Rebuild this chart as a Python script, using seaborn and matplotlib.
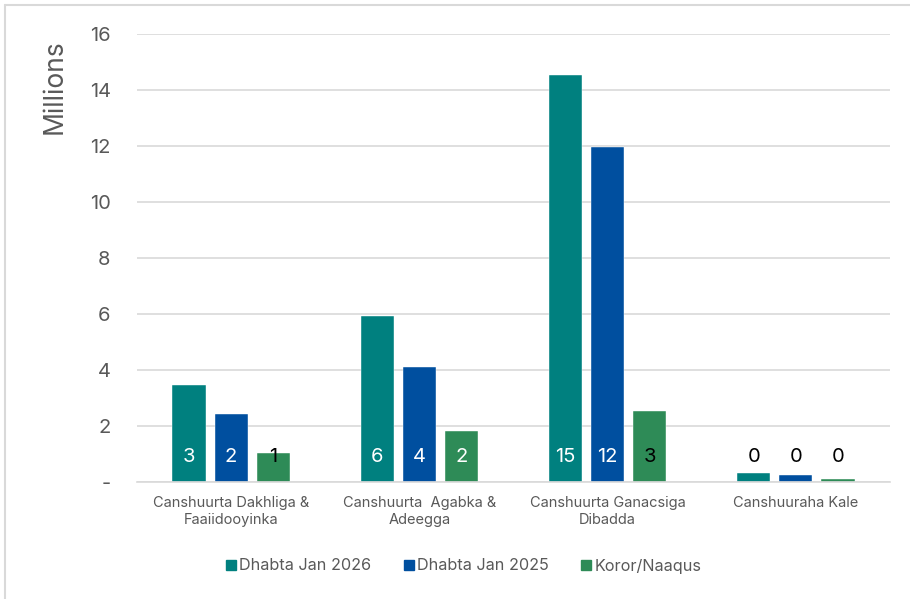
import matplotlib

matplotlib.use("Agg")
import matplotlib.pyplot as plt
import pandas as pd
import seaborn as sns
from matplotlib.lines import Line2D

categories = [
    "Canshuurta Dakhliga &\nFaaiidooyinka",
    "Canshuurta  Agabka &\nAdeegga",
    "Canshuurta Ganacsiga\nDibadda",
    "Canshuuraha Kale",
]
series = ["Dhabta Jan 2026", "Dhabta Jan 2025", "Koror/Naaqus"]
jan_2026 = [3.46, 5.93, 14.52, 0.32]
jan_2025 = [2.43, 4.11, 11.96, 0.25]
koror = [1.04, 1.82, 2.52, 0.09]
yticks = [0, 2, 4, 6, 8, 10, 12, 14, 16]
ytick_labels = ["-", "2", "4", "6", "8", "10", "12", "14", "16"]

colors = ["#00807F", "#004F9F", "#2E8B57"]
# label colours per series, per category (as in the original)
label_colors = [
    ["white", "white", "white", "black"],
    ["white", "white", "white", "black"],
    ["black", "white", "black", "black"],
]

rows = []
for name, vals in zip(series, [jan_2026, jan_2025, koror]):
    for cat, v in zip(categories, vals):
        rows.append({"category": cat, "series": name, "value": v})
df = pd.DataFrame(rows)

sns.set_style("white")
plt.rcParams["font.family"] = ["Inter", "DejaVu Sans"]
grey = "#595959"

fig = plt.figure(figsize=(9.10, 5.99), dpi=100)
ax = fig.add_axes([137 / 910, 1 - 482 / 599, (890 - 137) / 910, (482 - 34) / 599])

sns.barplot(
    data=df,
    x="category",
    y="value",
    hue="series",
    hue_order=series,
    order=categories,
    palette=colors,
    width=0.67,
    gap=0.21,
    saturation=1,
    edgecolor="white",
    linewidth=0.3,
    legend=False,
    ax=ax,
)

for i, cont in enumerate(ax.containers):
    for j, bar in enumerate(cont):
        val = bar.get_height()
        ax.annotate(
            f"{val:.0f}",
            xy=(bar.get_x() + bar.get_width() / 2, 0),
            xytext=(0, 18),
            textcoords="offset points",
            ha="center",
            va="center",
            fontsize=14.5,
            color=label_colors[i][j],
        )

ax.set_ylim(0, 16)
ax.set_xlim(-0.5, 3.5)
ax.set_yticks(yticks)
ax.set_yticklabels(ytick_labels, fontsize=14.5, color=grey)
ax.tick_params(axis="y", length=0, pad=19)
ax.tick_params(axis="x", length=0, pad=10)
for lbl in ax.get_xticklabels():
    lbl.set_fontsize(10.5)
    lbl.set_color(grey)
    lbl.set_linespacing(1.3)
ax.yaxis.grid(True, color="#d9d9d9", linewidth=1.2)
ax.set_axisbelow(True)
ax.set_xlabel("")
ax.set_ylabel("")
for s in ["top", "right", "left"]:
    ax.spines[s].set_visible(False)
ax.spines["bottom"].set_color("#d9d9d9")
ax.spines["bottom"].set_linewidth(1.2)

fig.text(55 / 910, 1 - 87 / 599, "Millions", rotation=90, fontsize=19,
         color=grey, ha="center", va="center")

handles = [
    Line2D([], [], marker="s", linestyle="", markersize=7.5, color=c, label=n)
    for c, n in zip(colors, series)
]
fig.legend(
    handles=handles,
    loc="center",
    bbox_to_anchor=(463 / 910, 1 - 566 / 599),
    ncol=3,
    frameon=False,
    fontsize=11.7,
    labelcolor=grey,
    handletextpad=0.1,
    columnspacing=1.9,
    handlelength=0.8,
)

# chart border (left and top edges visible)
fig.add_artist(Line2D([5 / 910, 5 / 910], [0, 1 - 5 / 599], color="#d9d9d9",
                      linewidth=1.5, transform=fig.transFigure))
fig.add_artist(Line2D([5 / 910, 1], [1 - 5 / 599, 1 - 5 / 599], color="#d9d9d9",
                      linewidth=1.5, transform=fig.transFigure))

fig.savefig("out.png", dpi=100)
